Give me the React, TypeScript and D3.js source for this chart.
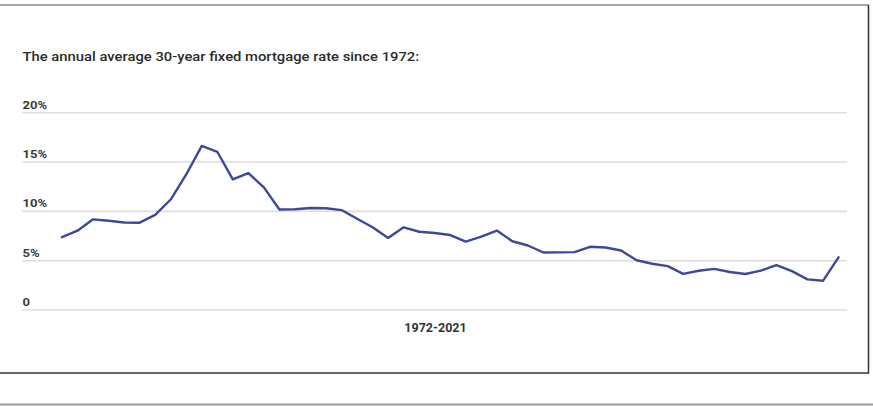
import React from "react";
import * as d3 from "d3";

const years: number[] = [
  1972, 1973, 1974, 1975, 1976, 1977, 1978, 1979, 1980, 1981,
  1982, 1983, 1984, 1985, 1986, 1987, 1988, 1989, 1990, 1991,
  1992, 1993, 1994, 1995, 1996, 1997, 1998, 1999, 2000, 2001,
  2002, 2003, 2004, 2005, 2006, 2007, 2008, 2009, 2010, 2011,
  2012, 2013, 2014, 2015, 2016, 2017, 2018, 2019, 2020, 2021, 2022,
];
const rates: number[] = [
  7.38, 8.04, 9.19, 9.05, 8.87, 8.85, 9.64, 11.2, 13.74, 16.63,
  16.04, 13.24, 13.88, 12.43, 10.19, 10.21, 10.34, 10.32, 10.13, 9.25,
  8.39, 7.31, 8.38, 7.93, 7.81, 7.6, 6.94, 7.44, 8.05, 6.97,
  6.54, 5.83, 5.84, 5.87, 6.41, 6.34, 6.03, 5.04, 4.69, 4.45,
  3.66, 3.98, 4.17, 3.85, 3.65, 3.99, 4.54, 3.94, 3.11, 2.96, 5.34,
];
const yTicks: number[] = [0, 5, 10, 15, 20];
const yTickLabels: string[] = ["0", "5%", "10%", "15%", "20%"];
const title = "The annual average 30-year fixed mortgage rate since 1972:";
const xLabel = "1972-2021";

export default function App() {
  const W = 873;
  const H = 407;
  const SX = 1.12;
  const x = d3.scaleLinear().domain([1972, 2022]).range([62, 838.5]);
  const y = d3.scaleLinear().domain([0, 20]).range([310, 112.7]);
  const line = d3
    .line<number>()
    .x((_, i) => x(years[i]))
    .y((d) => y(d))
    .curve(d3.curveLinear);

  return (
    <svg
      width={W}
      height={H}
      style={{ position: "absolute", left: 0, top: 0, background: "#fff" }}
      fontFamily="Roboto, 'Noto Sans', sans-serif"
    >
      <rect x={0} y={0} width={W} height={H} fill="#fff" />
      {/* frame */}
      <line x1={0} x2={869} y1={5} y2={5} stroke="#8a8a8a" strokeWidth={1.5} />
      <line x1={868.5} x2={868.5} y1={5} y2={373.5} stroke="#333" strokeWidth={1.5} />
      <line x1={0} x2={869} y1={373} y2={373} stroke="#333" strokeWidth={1.5} />
      <line x1={0} x2={W} y1={404.5} y2={404.5} stroke="#999" strokeWidth={2} />

      <text
        transform={`translate(22.5,60.8) scale(1.13,1)`}
        fontSize={13.1}
        fill="#2b2b2b"
        fontWeight={500}
      >
        {title}
      </text>

      {yTicks.map((t, i) => (
        <g key={t}>
          <line
            x1={22}
            x2={847}
            y1={y(t)}
            y2={y(t)}
            stroke="#dedede"
            strokeWidth={1.6}
          />
          <text
            transform={`translate(22.5,${y(t) - 4}) scale(${SX},1)`}
            fontSize={11.7}
            fontWeight={700}
            fill="#3a3a3a"
          >
            {yTickLabels[i]}
          </text>
        </g>
      ))}

      <path
        d={line(rates) ?? ""}
        fill="none"
        stroke="#3e4899"
        strokeWidth={2.4}
        strokeLinejoin="round"
        strokeLinecap="round"
      />

      <text
        x={435.5}
        y={331.5}
        fontSize={12.5}
        fontWeight={700}
        fill="#333"
        textAnchor="middle"
      >
        {xLabel}
      </text>
    </svg>
  );
}
